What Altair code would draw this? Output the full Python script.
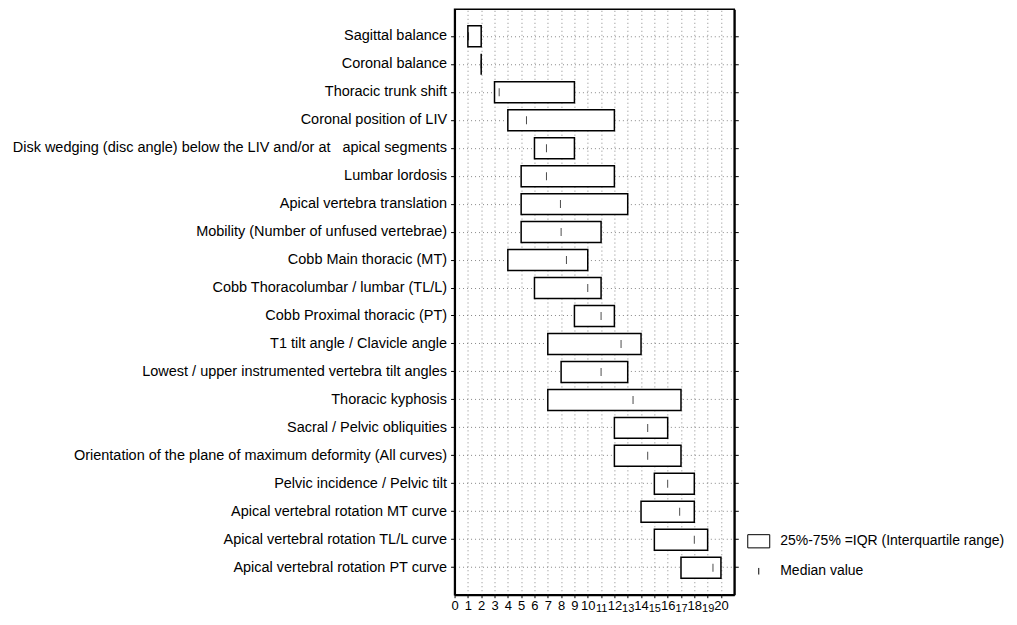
import altair as alt
import pandas as pd

labels = [
    "Sagittal balance",
    "Coronal balance",
    "Thoracic trunk shift",
    "Coronal position of LIV",
    "Disk wedging (disc angle) below the LIV and/or at\u00a0\u00a0 apical segments",
    "Lumbar lordosis",
    "Apical vertebra translation",
    "Mobility (Number of unfused vertebrae)",
    "Cobb Main thoracic (MT)",
    "Cobb Thoracolumbar / lumbar (TL/L)",
    "Cobb Proximal thoracic (PT)",
    "T1 tilt angle / Clavicle angle",
    "Lowest / upper instrumented vertebra tilt angles",
    "Thoracic kyphosis",
    "Sacral / Pelvic obliquities",
    "Orientation of the plane of maximum deformity (All curves)",
    "Pelvic incidence / Pelvic tilt",
    "Apical vertebral rotation MT curve",
    "Apical vertebral rotation TL/L curve",
    "Apical vertebral rotation PT curve",
]
q1 = [1, 2, 3, 4, 6, 5, 5, 5, 4, 6, 9, 7, 8, 7, 12, 12, 15, 14, 15, 17]
q3 = [2, 2, 9, 12, 9, 12, 13, 11, 10, 11, 12, 14, 13, 17, 16, 17, 18, 18, 19, 20]
median = [1.05, 2, 3.35, 5.4, 6.9, 6.9, 7.95, 8, 8.4, 10, 11, 12.5, 11, 13.4, 14.5, 14.5, 16, 16.9, 18, 19.4]
x_ticks = list(range(0, 21))
legend_items = ["25%-75% =IQR (Interquartile range)", "Median value"]

FONT = "Liberation Sans, Arial, sans-serif"

df = pd.DataFrame({"label": labels, "q1": q1, "q3": q3, "median": median})
leg = pd.DataFrame({"item": legend_items})

yscale = alt.Scale(domain=labels, paddingInner=0, paddingOuter=0.465)
xscale = alt.Scale(domain=[0, 21], nice=False, zero=False)

odd_low = "datum.value >= 11 && datum.value % 2 == 1"
x_axis = alt.Axis(values=x_ticks, labelFont=FONT,
                  labelFontSize={"condition": {"test": odd_low, "value": 11}, "value": 13},
                  labelColor="black", labelOverlap=False,
                  labelPadding={"condition": {"test": odd_low, "value": 5}, "value": 2},
                  labelFlush=False, tickSize=3, tickColor="black",
                  domainColor="black", domainWidth=2, grid=True,
                  gridColor="#888", gridDash=[1, 3], gridWidth=1)

bars = alt.Chart(df).mark_bar(
    size=21, fill="white", stroke="black", strokeWidth=1.5
).encode(
    y=alt.Y("label:N", scale=yscale, sort=labels, title=None,
            axis=alt.Axis(orient="left", labelFont=FONT, labelFontSize=14.5,
                          labelColor="black", labelLimit=600, labelPadding=4,
                          tickSize=4, tickColor="black", domainColor="black",
                          domainWidth=2, bandPosition=0.5, grid=True,
                          gridColor="#888", gridDash=[1, 3], gridWidth=1)),
    x=alt.X("q1:Q", scale=xscale, title=None, axis=x_axis),
    x2="q3:Q",
)

ticks = alt.Chart(df).mark_tick(
    orient="vertical", size=8, thickness=1, color="black", strokeDash=[3, 1]
).encode(
    y=alt.Y("label:N", scale=yscale, sort=labels, title=None,
            axis=alt.Axis(orient="right", labels=False, tickSize=4,
                          tickColor="black", domainColor="black", domainWidth=2,
                          bandPosition=0.5, grid=False)),
    x=alt.X("median:Q", scale=xscale, title=None, axis=x_axis),
)

legend_layer = alt.Chart(leg).mark_point(opacity=0, filled=False).encode(
    x=alt.value(0),
    y=alt.value(0),
    shape=alt.Shape(
        "item:N",
        scale=alt.Scale(domain=legend_items,
                        range=["M-1,-0.6H1V0.6H-1Z", "M0,-0.3V0.3"]),
        legend=alt.Legend(title=None, orient="none", legendX=293, legendY=521,
                          symbolSize=484, symbolStrokeColor="black",
                          symbolFillColor="transparent", symbolStrokeWidth=1,
                          symbolOpacity=1, labelFont=FONT, labelFontSize=14,
                          labelColor="black", labelOffset=10, rowPadding=9,
                          padding=0, labelLimit=400),
    ),
)

chart = alt.layer(bars, ticks, legend_layer).resolve_axis(y="independent").properties(
    width=280,
    height=586,
    autosize=alt.AutoSizeParams(type="none"),
    padding={"left": 447, "top": 1, "right": 275, "bottom": 30},
).configure_view(stroke="black", strokeWidth=1.5)

chart.save("out.html", embed_options={"renderer": "svg", "actions": False})
